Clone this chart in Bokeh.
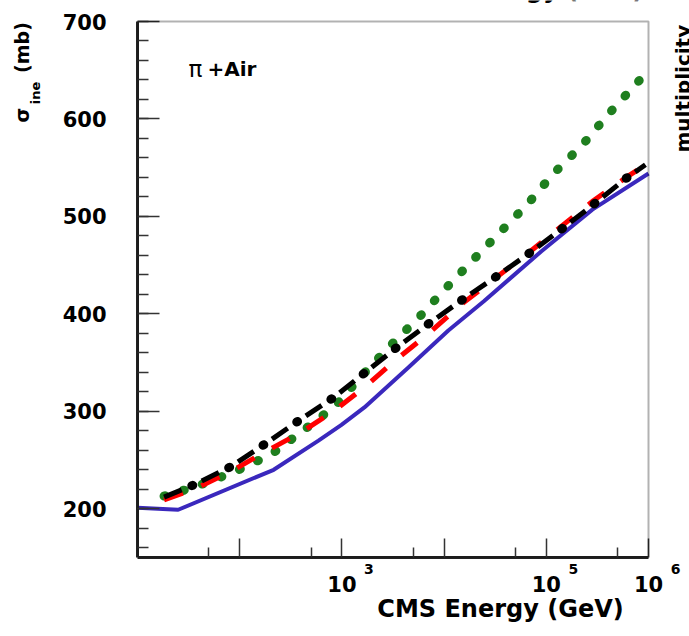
import math
from bokeh.plotting import figure
from bokeh.models import (Label, FixedTicker, Range1d, LinearAxis, LogAxis,
                          BoxAnnotation)
from bokeh.embed import file_html
from bokeh.resources import INLINE

# ---------------- data ----------------
blue_energy = [10, 25, 215, 590, 990, 1660, 4470, 11000, 24500, 89000, 282000, 1000000]
blue_sigma = [201, 199, 240, 270, 286, 304, 345, 383, 413, 464, 507, 544]

black_energy = [18.2, 35.5, 81.3, 174, 385, 826, 1694, 3388, 7080, 15300, 32100,
                67600, 141000, 288000, 603000, 933000]
black_sigma = [212, 224.5, 243, 266, 291, 314, 340, 365, 390, 415, 438, 462, 487,
               512, 539, 553]

red_energy = [18.2, 35.5, 81.3, 174, 385, 826, 1694, 3388, 7080, 15300, 32100,
              67600, 141000, 288000, 603000, 1000000]
red_sigma = [209, 220, 238, 258, 277.5, 300, 325.5, 353, 380, 411, 437, 463, 490,
             516, 540, 555]

green_energy = [18.2, 35.5, 89.1, 204, 427, 871, 1549, 2884, 5623, 10230, 19050,
                35480, 66070, 117500, 223900, 398100, 724400, 891300]
green_sigma = [213, 222, 238, 256, 281, 306, 336, 366, 396, 425.5, 455, 484, 513,
               544, 573, 604, 634, 644]

x_major_ticks = [100, 1000, 10000, 100000, 1000000]
x_minor_ticks = [50, 500, 5000, 50000, 500000]
x_label_ticks = [1000, 100000, 1000000]
x_label_exps = ["3", "5", "6"]
y_major_ticks = [200, 300, 400, 500, 600, 700]
y_minor_ticks = list(range(160, 701, 20))

X_MIN, X_MAX = 10, 1e6
Y_MIN, Y_MAX = 150, 700

# ---------------- geometry ----------------
W, H = 689, 636
FL, FR, FT, FB = 137, 648, 21, 557       # box of the plot in canvas pixels
DEC = (FR - FL) / 5.0                     # pixels per decade
PXU = (FB - FT) / float(Y_MAX - Y_MIN)    # pixels per mb
x_end = X_MAX * 10 ** ((W - FR) / DEC)    # frame runs to the canvas' right edge
y_end = Y_MAX + FT / PXU                  # and to its top edge


def x_at(px):
    return X_MIN * 10 ** ((px - FL) / DEC)


def y_at(py):
    return Y_MAX - (py - FT) / PXU


p = figure(width=W, height=H, x_axis_type="log",
           x_axis_location=None, y_axis_location=None,
           x_range=Range1d(X_MIN, x_end), y_range=Range1d(Y_MIN, y_end),
           output_backend="svg", toolbar_location=None,
           min_border=0, min_border_left=FL, min_border_right=0,
           min_border_top=0, min_border_bottom=H - FB)
p.background_fill_color = "white"
p.border_fill_color = "white"
p.outline_line_color = None
p.grid.visible = False

FONT = "DejaVu Sans"


def quiet_axis(ax):
    ax.axis_line_color = None
    ax.major_tick_line_color = None
    ax.minor_tick_line_color = None
    ax.major_tick_in = 0
    ax.major_tick_out = 0
    ax.minor_tick_in = 0
    ax.minor_tick_out = 0


def label_style(ax, size, standoff, bold=True):
    ax.major_label_standoff = standoff
    ax.major_label_text_font = FONT
    ax.major_label_text_font_style = "bold" if bold else "normal"
    ax.major_label_text_font_size = f"{size}px"
    ax.major_label_text_color = "black"


# ---- y axis with ticks and numbers
yax = LinearAxis(ticker=FixedTicker(ticks=y_major_ticks, minor_ticks=y_minor_ticks),
                 bounds=(Y_MIN, Y_MAX))
yax.axis_line_width = 3
yax.axis_line_color = "#222222"
yax.major_tick_in = 22
yax.major_tick_out = 0
yax.minor_tick_in = 11
yax.minor_tick_out = 0
yax.major_tick_line_width = 1.5
yax.minor_tick_line_width = 1.5
yax.major_tick_line_color = "#333333"
yax.minor_tick_line_color = "#333333"
label_style(yax, 21, 31)
p.add_layout(yax, "left")

# ---- y title: subscript "ine" (closer to the axis), then "σ" and "(mb)"
y_ine = y_at(92.5)
yine = LinearAxis(ticker=FixedTicker(ticks=[y_ine]))
quiet_axis(yine)
yine.major_label_overrides = {y_ine: "ine"}
yine.major_label_orientation = "vertical"
label_style(yine, 13, 17)
p.add_layout(yine, "left")

y_sig, y_mb = y_at(114.5), y_at(47)
ysym = LinearAxis(ticker=FixedTicker(ticks=[y_sig, y_mb]))
quiet_axis(ysym)
ysym.major_label_overrides = {y_sig: "σ", y_mb: "(mb)"}
ysym.major_label_orientation = "vertical"
label_style(ysym, 19, -8)
p.add_layout(ysym, "left")

# ---- x axis with ticks
xax = LogAxis(ticker=FixedTicker(ticks=x_major_ticks, minor_ticks=x_minor_ticks),
              bounds=(X_MIN, X_MAX))
xax.axis_line_width = 3
xax.axis_line_color = "#222222"
xax.major_tick_in = 19
xax.major_tick_out = 0
xax.minor_tick_in = 10
xax.minor_tick_out = 0
xax.major_tick_line_width = 1.5
xax.minor_tick_line_width = 1.5
xax.major_tick_line_color = "#333333"
xax.minor_tick_line_color = "#333333"
xax.major_label_overrides = {t: "" for t in x_major_ticks}
xax.major_label_text_font_size = "1px"
xax.major_label_standoff = 0
p.add_layout(xax, "below")

# ---- exponents of the tick labels
shift = 10 ** (27 / DEC)
exp_pos = [t * shift for t in x_label_ticks]
xexp = LogAxis(ticker=FixedTicker(ticks=exp_pos, minor_ticks=[]))
quiet_axis(xexp)
xexp.major_label_overrides = dict(zip(exp_pos, x_label_exps))
label_style(xexp, 14, 6)
p.add_layout(xexp, "below")

# ---- mantissas "10" of the tick labels
xten = LogAxis(ticker=FixedTicker(ticks=x_label_ticks, minor_ticks=[]))
quiet_axis(xten)
xten.major_label_overrides = {t: "10" for t in x_label_ticks}
label_style(xten, 21, -1)
p.add_layout(xten, "below")

# ---- x title, centred where the reference has it
x_tit = x_at(500)
xtit = LogAxis(ticker=FixedTicker(ticks=[x_tit], minor_ticks=[]))
quiet_axis(xtit)
xtit.major_label_overrides = {x_tit: "CMS Energy (GeV)"}
label_style(xtit, 24, 0)
p.add_layout(xtit, "below")

# ---- box of the plot
p.add_layout(BoxAnnotation(left=X_MIN, right=X_MAX, bottom=Y_MIN, top=Y_MAX,
                           fill_color=None, fill_alpha=0,
                           line_color="black", line_width=2))

# ---------------- curves ----------------
p.line(blue_energy, blue_sigma, line_color="#3a28bd", line_width=4)
p.line(green_energy, green_sigma, line_color="#1f7f1f", line_width=9,
       line_dash="1 19", line_cap="round")
p.line(red_energy, red_sigma, line_color="#ff0000", line_width=5,
       line_dash="20 20")
p.line(black_energy, black_sigma, line_color="black", line_width=5,
       line_dash="19 22")
p.line(black_energy, black_sigma, line_color="black", line_width=9,
       line_dash="1 40", line_dash_offset=11, line_cap="round")


# ---------------- texts inside the frame ----------------
def add_text(cx, cy, text, size, bold=True, align="left", angle=0.0):
    p.add_layout(Label(x=cx - FL, y=FB - cy, x_units="screen", y_units="screen",
                       text=text, text_font=FONT, text_font_size=f"{size}px",
                       text_font_style="bold" if bold else "normal",
                       text_align=align, text_baseline="alphabetic",
                       angle=angle, text_color="black"))


add_text(188, 68, "π", 23, bold=False)
add_text(207, 68, "+Air", 20)

# fragments of neighbouring panels cut by the picture's edges
add_text(682, 152, "multiplicity", 20, angle=math.pi / 2)
add_text(643, -11, "CMS Energy (GeV)", 24, align="right")

open("out.html", "w").write(file_html(p, INLINE))
